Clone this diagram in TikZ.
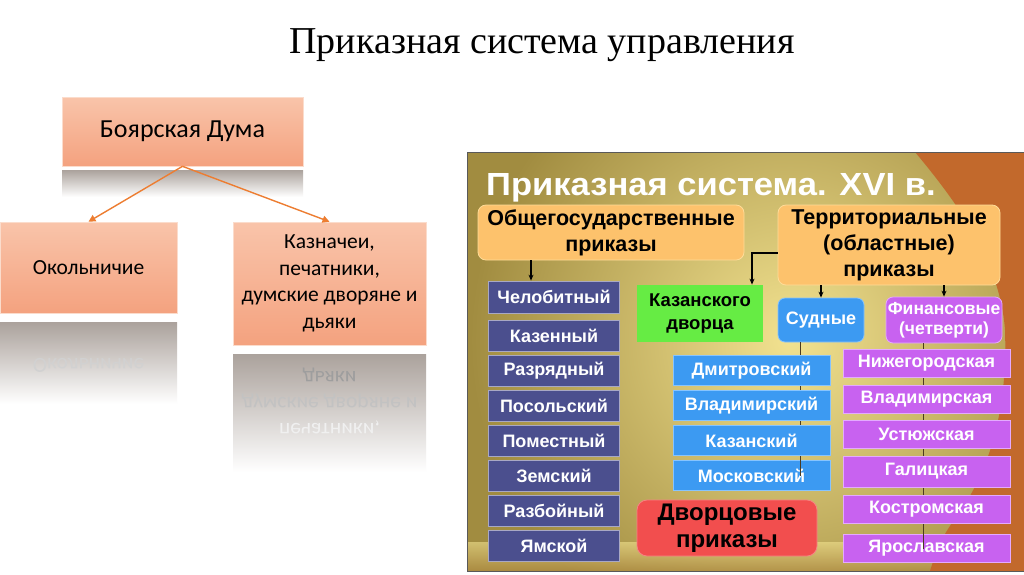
\documentclass[tikz,border=0pt]{standalone}
\usepackage{fontspec}
\setmainfont{Liberation Serif}
\newfontfamily\calfont{Carlito}
\newfontfamily\arfont{Liberation Sans}
\usetikzlibrary{arrows.meta}
\definecolor{salmonT}{HTML}{F9C4AA}
\definecolor{salmonB}{HTML}{F4A27F}
\definecolor{offorange}{HTML}{ED7D31}
\definecolor{reflT}{HTML}{ABA29C}
\definecolor{olive}{HTML}{A18C40}
\definecolor{goldlight}{HTML}{F2E290}
\definecolor{rust}{HTML}{C2692C}
\definecolor{tanband}{HTML}{B08A42}
\definecolor{boxorange}{HTML}{FDC26C}
\definecolor{boxorangeB}{HTML}{FFDC98}
\definecolor{slate}{HTML}{4B4F8E}
\definecolor{slateB}{HTML}{A8A8C4}
\definecolor{lime}{HTML}{66EC44}
\definecolor{skyblue}{HTML}{3C9AF2}
\definecolor{skyblueB}{HTML}{86C4FF}
\definecolor{violet}{HTML}{C862F0}
\definecolor{violetB}{HTML}{E4AAFF}
\definecolor{redbox}{HTML}{F24E4E}
\definecolor{treeline}{HTML}{4A3A20}
\tikzset{
  lbox/.style={shade, top color=salmonT, bottom color=salmonB, draw=salmonT!60!white, line width=0.6pt,
    inner sep=0pt, align=center, font=\calfont\fontsize{21.5}{26.5}\selectfont, text=black},
  refl/.style={shade, top color=reflT, bottom color=white},
  reflt/.style={font=\calfont\fontsize{21.5}{26.5}\selectfont, inner sep=0pt},
  oarrow/.style={draw=offorange, line width=1.4pt, -{Triangle[length=7pt,width=7pt]}},
  pbox/.style={inner sep=0pt, align=center, font=\arfont\bfseries\fontsize{18}{22}\selectfont, line width=0.8pt},
  obox/.style={pbox, fill=boxorange, draw=boxorangeB, rounded corners=8pt, text=black, font=\arfont\bfseries\fontsize{21.5}{26}\selectfont},
  sbox/.style={pbox, fill=slate, draw=slateB, text=white, minimum width=131pt, minimum height=31pt},
  bbox/.style={pbox, fill=skyblue, draw=skyblueB, text=white, minimum width=157pt, minimum height=30pt},
  vbox/.style={pbox, fill=violet, draw=violetB, text=white, minimum width=167pt, minimum height=28pt},
  barr/.style={draw=black, line width=1.2pt, -{Stealth[length=6pt,width=5pt]}},
  tline/.style={draw=treeline, line width=0.8pt}
}
\begin{document}
\begin{tikzpicture}[x=1pt,y=-1pt]
\useasboundingbox (0,0) rectangle (1024,574);
\fill[white] (0,0) rectangle (1024,574);

% ---------- title ----------
\node[anchor=base, font=\fontsize{38}{44}\selectfont, inner sep=0pt] (title) at (542,53) {Приказная система управления};

% ---------- left scheme: reflections ----------
\shade[refl] (62,170) rectangle (303,197);
\shade[refl] (0,322) rectangle (177,404);
\shade[refl] (233,354) rectangle (426,472);
\node[reflt, text=white!82!black] (okolR) at (88.5,365) {\scalebox{1}[-1]{Окольничие}};
\node[reflt, text=black!38] (kaznR1) at (329.5,375) {\scalebox{1}[-1]{дьяки}};
\node[reflt, text=black!24] (kaznR2) at (329.5,401) {\scalebox{1}[-1]{думские дворяне и}};
\node[reflt, text=black!6] (kaznR3) at (329.5,427) {\scalebox{1}[-1]{печатники,}};

% ---------- left scheme: boxes ----------
\node[lbox, minimum width=241pt, minimum height=69pt, font=\calfont\fontsize{26}{30}\selectfont] (boyar) at (182.5,131.5) {Боярская Дума};
\node[lbox, minimum width=177pt, minimum height=91pt] (okol) at (88.5,267.5) {Окольничие};
\node[lbox, minimum width=193pt, minimum height=123pt] (kazn) at (329.5,283.5) {Казначеи,\\печатники,\\думские дворяне и\\дьяки};
\draw[oarrow] (boyar.south) -- (okol.north);
\draw[oarrow] (boyar.south) -- (kazn.north);

% ---------- right panel background ----------
\begin{scope}
\clip (467,152) rectangle (1024,571);
\fill[olive] (467,152) rectangle (1024,571);
\shade[inner color=goldlight, outer color=olive] (790,340) circle (320);
\shade[top color=tanband!0!goldlight, bottom color=tanband, opacity=0.6] (467,542) rectangle (1024,571);
\fill[rust] (915,152) .. controls (955,200) and (1000,260) .. (1005,330)
  .. controls (1008,420) and (985,480) .. (952,523)
  .. controls (940,540) and (935,555) .. (930,571) -- (1024,571) -- (1024,152) -- cycle;
\end{scope}
\draw[black!65, line width=1pt] (467,571) -- (467,152) -- (1024,152);
\draw[black!65, line width=1pt] (467,571) -- (1024,571);

\node[anchor=base west, inner sep=0pt, text=white, font=\arfont\bfseries\fontsize{32}{36}\selectfont] (ptitle) at (486,195) {\scalebox{1.08}[1]{Приказная система. XVI в.}};

% ---------- tree lines (behind boxes) ----------
\node[pbox, fill=skyblue, draw=skyblueB, text=white, rounded corners=7pt, minimum width=86pt, minimum height=44pt] (sud) at (821,320) {Судные};
\node[pbox, fill=violet, draw=violetB, text=white, rounded corners=7pt, minimum width=116pt, minimum height=46pt, font=\arfont\bfseries\fontsize{17.5}{20}\selectfont] (fin) at (944,320) {Финансовые\\(четверти)};
\node[bbox] (mos) at (751.5,475.5) {Московский};
\node[vbox] (yar) at (926.5,548.5) {Ярославская};
\coordinate (sudl) at ([xshift=-21pt]sud.south);
\coordinate (finl) at ([xshift=-21pt]fin.south);
\draw[tline] (sudl) -- (sudl |- mos.center);
\draw[tline] (finl) -- (finl |- yar.center);

% ---------- right panel boxes ----------
\node[obox, minimum width=266pt, minimum height=55pt] (obsh) at (611,232.5) {Общегосударственные\\приказы};
\node[obox, minimum width=222pt, minimum height=80pt] (terr) at (889,245) {Территориальные\\(областные)\\приказы};

\node[sbox, minimum height=32pt] (chel) at (554,297) {Челобитный};
\node[sbox] (kaz) at (554,335.5) {Казенный};
\node[sbox] (razr) at (554,370.5) {Разрядный};
\node[sbox] (pos) at (554,405.5) {Посольский};
\node[sbox] (pom) at (554,440.5) {Поместный};
\node[sbox] (zem) at (554,475.5) {Земский};
\node[sbox] (razb) at (554,510.5) {Разбойный};
\node[sbox] (yam) at (554,545.5) {Ямской};

\node[pbox, fill=lime, text=black, minimum width=126pt, minimum height=57pt, font=\arfont\bfseries\fontsize{18.5}{23}\selectfont] (kazd) at (700,313.5) {Казанского\\дворца};

\node[bbox] (dmi) at (751.5,370.5) {Дмитровский};
\node[bbox] (vla) at (751.5,405.5) {Владимирский};
\node[bbox] (kzn) at (751.5,440.5) {Казанский};

\node[vbox] (niz) at (926.5,363.5) {Нижегородская};
\node[vbox] (vlad) at (926.5,399) {Владимирская};
\node[vbox] (ust) at (926.5,434) {Устюжская};
\node[vbox, minimum height=31pt] (gal) at (926.5,471.5) {Галицкая};
\node[vbox] (kos) at (926.5,509) {Костромская};

\node[pbox, fill=redbox, draw=redbox!70!white, text=black, rounded corners=10pt, minimum width=180pt, minimum height=56pt, font=\arfont\bfseries\fontsize{24}{27}\selectfont] (dvor) at (727,528) {Дворцовые\\приказы};

% ---------- arrows ----------
\draw[barr] ([xshift=-80pt]obsh.south) -- ([xshift=-23pt]chel.north);
\draw[barr] ([yshift=-8pt]terr.west) -| ([xshift=52pt]kazd.north);
\draw[barr] (terr.south -| sud.north) -- (sud.north);
\draw[barr] (terr.south -| fin.north) -- (fin.north);
\end{tikzpicture}
\end{document}
